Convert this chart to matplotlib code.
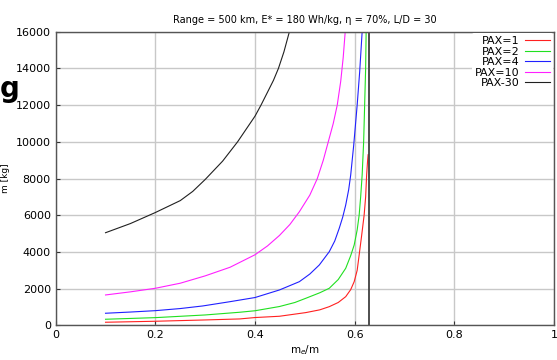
import matplotlib
matplotlib.use("Agg")
import matplotlib.pyplot as plt

# values (x = me/m, y = m [kg])
x_pax1 = [0.10, 0.20, 0.30, 0.369, 0.40, 0.449, 0.502, 0.53, 0.549, 0.567, 0.582, 0.592,
          0.599, 0.605, 0.609, 0.614, 0.619, 0.622, 0.624, 0.626, 0.627]
m_pax1 = [174, 228, 299, 354, 430, 500, 700, 850, 1023, 1250, 1567, 1950,
          2384, 3000, 3837, 4900, 6014, 7000, 8190, 9000, 9300]

x_pax2 = [0.10, 0.20, 0.30, 0.369, 0.40, 0.449, 0.48, 0.502, 0.53, 0.549, 0.567, 0.582,
          0.592, 0.599, 0.605, 0.609, 0.612, 0.615, 0.618, 0.620, 0.622, 0.623]
m_pax2 = [337, 425, 571, 718, 800, 1030, 1250, 1480, 1780, 2024, 2500, 3112,
          3800, 4380, 5200, 6014, 7000, 8190, 10000, 12000, 14000, 16000]

x_pax4 = [0.10, 0.15, 0.20, 0.25, 0.295, 0.35, 0.40, 0.449, 0.489, 0.51, 0.529, 0.549,
          0.56, 0.569, 0.576, 0.582, 0.588, 0.592, 0.598, 0.605, 0.61, 0.615]
m_pax4 = [664, 730, 805, 920, 1061, 1295, 1520, 1932, 2384, 2800, 3293, 4016,
          4600, 5290, 5900, 6558, 7400, 8190, 9800, 12000, 13800, 16000]

x_pax10 = [0.10, 0.15, 0.20, 0.25, 0.30, 0.35, 0.40, 0.425, 0.449, 0.47, 0.489, 0.51,
           0.525, 0.537, 0.547, 0.557, 0.565, 0.572, 0.577, 0.581]
m_pax10 = [1660, 1830, 2024, 2300, 2700, 3170, 3850, 4330, 4900, 5500, 6193, 7100,
           8000, 9000, 10000, 11000, 12000, 13300, 14600, 16000]

x_pax30 = [0.10, 0.15, 0.20, 0.25, 0.275, 0.30, 0.335, 0.365, 0.38, 0.40, 0.412,
           0.425, 0.437, 0.447, 0.458, 0.469]
m_pax30 = [5050, 5550, 6150, 6800, 7300, 7950, 8950, 10000, 10600, 11400, 12000,
           12700, 13350, 14000, 14900, 16000]

series = [
    ("PAX=1", x_pax1, m_pax1, "#ff2020"),
    ("PAX=2", x_pax2, m_pax2, "#20e020"),
    ("PAX=4", x_pax4, m_pax4, "#2020ff"),
    ("PAX=10", x_pax10, m_pax10, "#ff20ff"),
    ("PAX-30", x_pax30, m_pax30, "#202020"),
]

fig = plt.figure(figsize=(5.57, 3.6), dpi=100)
ax = fig.add_axes([0.1, 0.096, 0.8946, 0.816])

for label, xs, ys, c in series:
    ax.plot(xs, ys, color=c, lw=0.8, label=label)

ax.axvline(0.628, color="#404040", lw=1.3)

ax.set_xlim(0, 1)
ax.set_ylim(0, 16000)
ax.set_xticks([0, 0.2, 0.4, 0.6, 0.8, 1])
ax.set_xticklabels(["0", "0.2", "0.4", "0.6", "0.8", "1"])
ax.set_yticks(range(0, 16001, 2000))
ax.grid(True, color="#c8c8c8", lw=1.0)
ax.set_axisbelow(True)
ax.tick_params(direction="in", length=3, labelsize=8, colors="#333333", labelcolor="black")
for s in ax.spines.values():
    s.set_color("#555555")
    s.set_linewidth(1.0)

ax.set_title("Range = 500 km, E* = 180 Wh/kg, \u03b7 = 70%, L/D = 30", fontsize=7, pad=6)
ax.set_xlabel("m$_e$/m", fontsize=7.5, labelpad=2)
ax.set_ylabel("m [kg]", fontsize=6.5, labelpad=4)

leg = ax.legend(loc="upper right", markerfirst=False, fontsize=8, frameon=True,
                framealpha=1, edgecolor="white", labelspacing=0.05,
                handlelength=2.2, handletextpad=0.5, borderpad=0.3,
                borderaxespad=0.1)
leg.get_frame().set_linewidth(0)
for t in leg.get_texts():
    t.set_ha("right")

# stray slide letter at the left edge of the reference
fig.text(0.0, 0.73, "g", fontsize=20, fontweight="bold")

fig.savefig("out.png", dpi=100)
